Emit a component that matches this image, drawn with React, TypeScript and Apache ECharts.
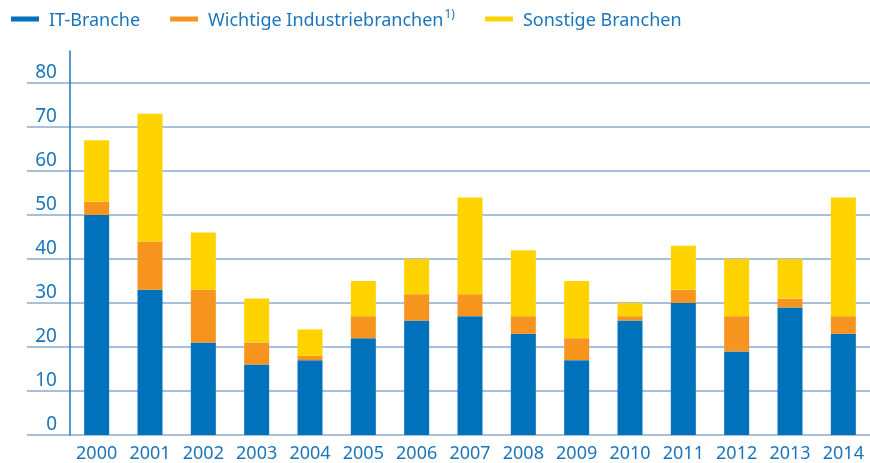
import React, { useEffect, useRef } from "react";
import * as echarts from "echarts";

const years = ["2000", "2001", "2002", "2003", "2004", "2005", "2006", "2007", "2008", "2009", "2010", "2011", "2012", "2013", "2014"];
const itBranche = [50, 33, 21, 16, 17, 22, 26, 27, 23, 17, 26, 30, 19, 29, 23];
const industrie = [3, 11, 12, 5, 1, 5, 6, 5, 4, 5, 1, 3, 8, 2, 4];
const sonstige = [14, 29, 13, 10, 6, 8, 8, 22, 15, 13, 3, 10, 13, 9, 27];

const seriesNames = ["IT-Branche", "Wichtige Industriebranchen", "Sonstige Branchen"];
const colors = ["#0071bb", "#f7941e", "#ffd300"];
const textColor = "#1b75bc";
const font = "Noto Sans";

export default function App() {
  const ref = useRef<HTMLDivElement>(null);
  useEffect(() => {
    if (!ref.current) return;
    const chart = echarts.init(ref.current, null, { renderer: "svg" });
    const dataSets = [itBranche, industrie, sonstige];
    chart.setOption({
      animation: false,
      textStyle: { fontFamily: font },
      legend: {
        left: 6,
        top: 2,
        icon: "rect",
        itemWidth: 28,
        itemHeight: 5,
        itemGap: 30,
        data: seriesNames,
        formatter: (name: string) =>
          name === "Wichtige Industriebranchen" ? "{a|" + name + "}{sup|1)}" : "{a|" + name + "}",
        textStyle: {
          color: textColor,
          fontSize: 18,
          fontFamily: font,
          padding: [0, 0, 0, 5],
          rich: {
            a: { color: textColor, fontSize: 18, fontFamily: font },
            sup: { color: textColor, fontSize: 12, fontFamily: font, padding: [0, 0, 12, 1] },
          },
        },
      },
      grid: [
        { left: 70, right: 0, top: 51, bottom: 28 },
        { left: 27, right: 0, top: 83, bottom: 28 },
      ],
      xAxis: [
        {
          gridIndex: 0,
          type: "category",
          data: years,
          axisLine: { show: false },
          axisTick: { show: false },
          axisLabel: {
            interval: 0,
            color: textColor,
            fontSize: 18,
            fontFamily: font,
            margin: 8,
            lineHeight: 18,
          },
        },
        { gridIndex: 1, type: "value", show: false },
      ],
      yAxis: [
        {
          gridIndex: 0,
          type: "value",
          min: 0,
          max: 87.27,
          axisLine: { show: true, lineStyle: { color: "#1b75bc", width: 1.5 } },
          axisTick: { show: false },
          axisLabel: { show: false },
          splitLine: { show: false },
          z: 3,
        },
        {
          gridIndex: 1,
          type: "value",
          min: 0,
          max: 80,
          interval: 10,
          axisLine: { show: false },
          axisTick: { show: false },
          splitLine: { show: true, lineStyle: { color: "#a9c0dd", width: 2 } },
          axisLabel: {
            inside: true,
            align: "right",
            margin: 30,
            color: textColor,
            fontSize: 19,
            fontFamily: font,
            verticalAlign: "bottom",
            lineHeight: 25,
          },
        },
      ],
      series: seriesNames.map((name, i) => ({
        name,
        type: "bar",
        stack: "total",
        xAxisIndex: 0,
        yAxisIndex: 0,
        barWidth: 25,
        itemStyle: { color: colors[i] },
        data: dataSets[i],
        z: 4,
      })),
    });
    return () => chart.dispose();
  }, []);
  return <div ref={ref} style={{ position: "fixed", left: 0, top: 0, width: 870, height: 463 }} />;
}
